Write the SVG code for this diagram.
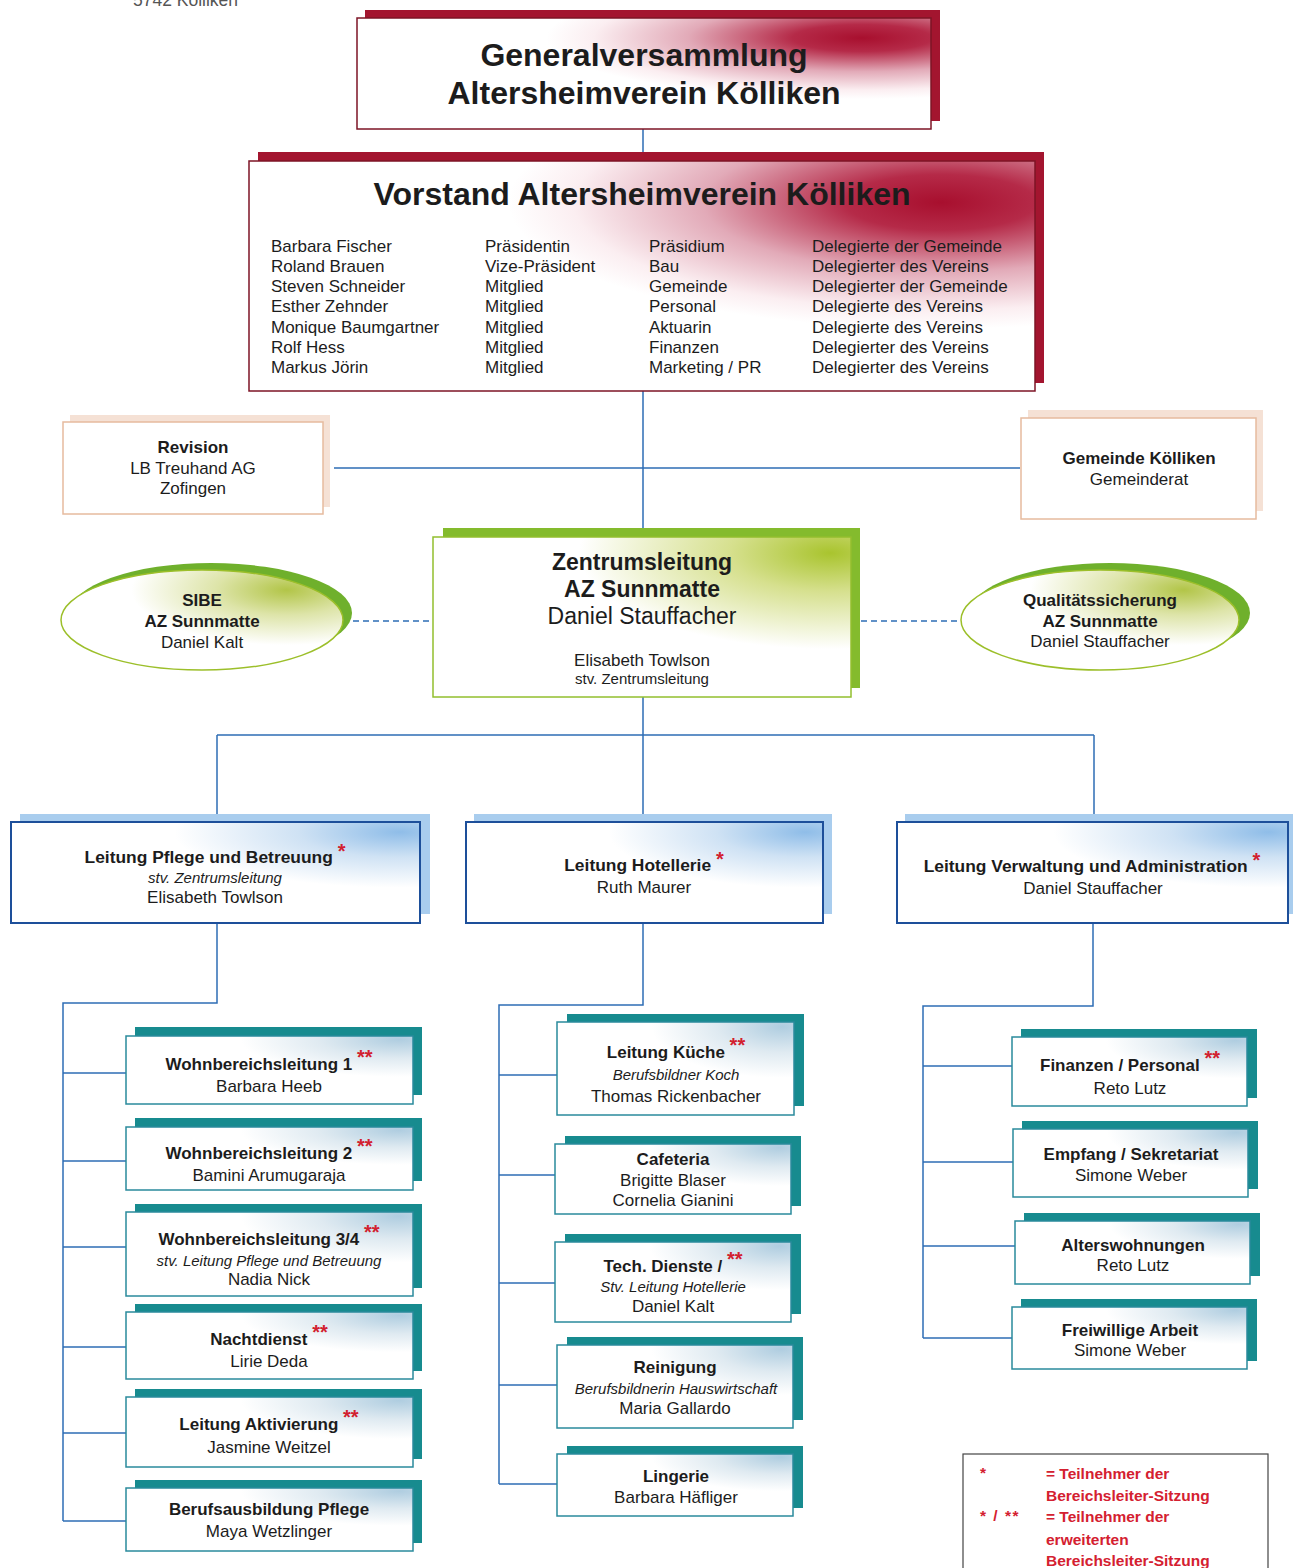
<svg xmlns="http://www.w3.org/2000/svg" width="1293" height="1568" viewBox="0 0 1293 1568">
<style>
text{font-family:"Liberation Sans",Arial,sans-serif;fill:#1c1c1c;font-size:17px}
.b{font-weight:bold}
.i{font-style:italic;font-size:15px}
.m{text-anchor:middle}
.ast{fill:#d2202e;font-weight:bold;font-size:20px}
.h1{font-size:32px;font-weight:bold}
.con{fill:none;stroke:#2e6db5;stroke-width:1.5}
.dash{fill:none;stroke:#2e6db5;stroke-width:1.5;stroke-dasharray:6 4}
.shRed{fill:#a3152f}
.bxRed{fill:url(#gRed);stroke:#7d1426;stroke-width:1.5}
.shPeach{fill:#f5e1d5}
.bxPeach{fill:#fff;stroke:#e6bb9e;stroke-width:1.5}
.shGreen{fill:#84bb2d}
.bxGreen{fill:url(#gGreen);stroke:#92bf2e;stroke-width:1.5}
.elGreen{fill:url(#gGreenE);stroke:#9cbf2a;stroke-width:1.5}
.shBlue{fill:#a9cdee}
.bxBlue{fill:url(#gBlue);stroke:#1d4f9a;stroke-width:2}
.shTeal{fill:#178b8f}
.bxTeal{fill:url(#gTeal);stroke:#2a8a9c;stroke-width:1.5}
.leg{fill:#d42030;font-weight:bold;font-size:15.5px}
</style>
<defs>
<radialGradient id="gRed" cx="0.88" cy="0.18" r="0.55">
<stop offset="0" stop-color="#a80f2e"/>
<stop offset="0.22" stop-color="#b52a48"/>
<stop offset="0.55" stop-color="#e2aab8"/>
<stop offset="0.85" stop-color="#fbeef1"/>
<stop offset="1" stop-color="#ffffff"/>
</radialGradient>
<radialGradient id="gGreen" cx="0.95" cy="0.1" r="0.6">
<stop offset="0" stop-color="#a9c42e"/>
<stop offset="0.4" stop-color="#d6e08e"/>
<stop offset="1" stop-color="#ffffff"/>
</radialGradient>
<radialGradient id="gGreenE" cx="0.8" cy="0.2" r="0.55">
<stop offset="0" stop-color="#b2c548"/>
<stop offset="0.45" stop-color="#dde4a8"/>
<stop offset="1" stop-color="#ffffff"/>
</radialGradient>
<radialGradient id="gBlue" cx="0.95" cy="0.1" r="0.55">
<stop offset="0" stop-color="#8fbde8"/>
<stop offset="0.45" stop-color="#cfe2f4"/>
<stop offset="1" stop-color="#ffffff"/>
</radialGradient>
<radialGradient id="gTeal" cx="0.95" cy="0.05" r="0.55">
<stop offset="0" stop-color="#afcde0"/>
<stop offset="0.5" stop-color="#dfeaf1"/>
<stop offset="1" stop-color="#ffffff"/>
</radialGradient>
</defs>
<rect width="1293" height="1568" fill="#ffffff"/>
<text x="133" y="6" style="fill:#555;font-size:17.5px">5742 Kölliken</text>

<g id="connectors">
<path class="con" d="M643 129V161M643 391V537M334 468H1020M643 697V735M217 735H1094M217 735V822M643 735V822M1094 735V822"/>
<path class="dash" d="M343 621H433M851 621H961"/>
<path class="con" d="M217 923V1003H63V1521M63 1073H126M63 1161H126M63 1247H126M63 1347H126M63 1433H126M63 1521H126"/>
<path class="con" d="M643 923V1005H499V1484M499 1075H557M499 1175H555M499 1283H555M499 1385H557M499 1484H557"/>
<path class="con" d="M1093 923V1006H923V1338M923 1066H1012M923 1162H1013M923 1246H1015M923 1338H1012"/>
</g>

<g id="generalversammlung">
<rect class="shRed" x="365" y="10" width="575" height="111"/>
<rect class="bxRed" x="357" y="18" width="574" height="111"/>
<text class="h1 m" x="644" y="66">Generalversammlung</text>
<text class="h1 m" x="644" y="104">Altersheimverein Kölliken</text>
</g>

<g id="vorstand">
<rect class="shRed" x="258" y="152" width="786" height="231"/>
<rect class="bxRed" x="249" y="161" width="786" height="230"/>
<text class="h1 m" x="642" y="205">Vorstand Altersheimverein Kölliken</text>
<g style="font-size:17.3px">
<text x="271" y="252">Barbara Fischer</text>
<text x="271" y="272">Roland Brauen</text>
<text x="271" y="292">Steven Schneider</text>
<text x="271" y="312">Esther Zehnder</text>
<text x="271" y="333">Monique Baumgartner</text>
<text x="271" y="353">Rolf Hess</text>
<text x="271" y="373">Markus Jörin</text>
<text x="485" y="252">Präsidentin</text>
<text x="485" y="272">Vize-Präsident</text>
<text x="485" y="292">Mitglied</text>
<text x="485" y="312">Mitglied</text>
<text x="485" y="333">Mitglied</text>
<text x="485" y="353">Mitglied</text>
<text x="485" y="373">Mitglied</text>
<text x="649" y="252">Präsidium</text>
<text x="649" y="272">Bau</text>
<text x="649" y="292">Gemeinde</text>
<text x="649" y="312">Personal</text>
<text x="649" y="333">Aktuarin</text>
<text x="649" y="353">Finanzen</text>
<text x="649" y="373">Marketing / PR</text>
<text x="812" y="252">Delegierte der Gemeinde</text>
<text x="812" y="272">Delegierter des Vereins</text>
<text x="812" y="292">Delegierter der Gemeinde</text>
<text x="812" y="312">Delegierte des Vereins</text>
<text x="812" y="333">Delegierte des Vereins</text>
<text x="812" y="353">Delegierter des Vereins</text>
<text x="812" y="373">Delegierter des Vereins</text>
</g>
</g>

<g id="revision">
<rect class="shPeach" x="70" y="415" width="260" height="92"/>
<rect class="bxPeach" x="63" y="422" width="260" height="92"/>
<text class="b m" x="193" y="453">Revision</text>
<text class="m" x="193" y="474">LB Treuhand AG</text>
<text class="m" x="193" y="494">Zofingen</text>
</g>

<g id="gemeinde">
<rect class="shPeach" x="1028" y="410" width="235" height="101"/>
<rect class="bxPeach" x="1021" y="418" width="235" height="101"/>
<text class="b m" x="1139" y="464">Gemeinde Kölliken</text>
<text class="m" x="1139" y="485">Gemeinderat</text>
</g>

<g id="zentrumsleitung">
<rect class="shGreen" x="443" y="528" width="417" height="160"/>
<rect class="bxGreen" x="433" y="537" width="418" height="160"/>
<text class="b m" x="642" y="570" style="font-size:23px">Zentrumsleitung</text>
<text class="b m" x="642" y="597" style="font-size:23px">AZ Sunnmatte</text>
<text class="m" x="642" y="624" style="font-size:23px">Daniel Stauffacher</text>
<text class="m" x="642" y="666">Elisabeth Towlson</text>
<text class="m" x="642" y="684" style="font-size:15px">stv. Zentrumsleitung</text>
</g>

<g id="sibe">
<ellipse class="shGreen" cx="211" cy="613" rx="141" ry="50" style="fill:#6fb02c"/>
<ellipse class="elGreen" cx="202" cy="620" rx="141" ry="50"/>
<text class="b m" x="202" y="606">SIBE</text>
<text class="b m" x="202" y="627">AZ Sunnmatte</text>
<text class="m" x="202" y="648">Daniel Kalt</text>
</g>

<g id="qualitaet">
<ellipse class="shGreen" cx="1110" cy="613" rx="140" ry="50" style="fill:#6fb02c"/>
<ellipse class="elGreen" cx="1100" cy="620" rx="139" ry="50"/>
<text class="b m" x="1100" y="606">Qualitätssicherung</text>
<text class="b m" x="1100" y="627">AZ Sunnmatte</text>
<text class="m" x="1100" y="647">Daniel Stauffacher</text>
</g>

<g id="pflege">
<rect class="shBlue" x="20" y="814" width="410" height="100"/>
<rect class="bxBlue" x="11" y="822" width="409" height="101"/>
<text class="b m" x="215" y="863" style="font-size:17.4px">Leitung Pflege und Betreuung <tspan class="ast" dy="-5">*</tspan></text>
<text class="i m" x="215" y="883">stv. Zentrumsleitung</text>
<text class="m" x="215" y="903">Elisabeth Towlson</text>
</g>

<g id="hotellerie">
<rect class="shBlue" x="474" y="814" width="358" height="100"/>
<rect class="bxBlue" x="466" y="822" width="357" height="101"/>
<text class="b m" x="644" y="871" style="font-size:17.4px">Leitung Hotellerie <tspan class="ast" dy="-5">*</tspan></text>
<text class="m" x="644" y="893">Ruth Maurer</text>
</g>

<g id="verwaltung">
<rect class="shBlue" x="905" y="814" width="388" height="100"/>
<rect class="bxBlue" x="897" y="822" width="391" height="101"/>
<text class="b m" x="1092" y="872" style="font-size:17.4px">Leitung Verwaltung und Administration <tspan class="ast" dy="-5">*</tspan></text>
<text class="m" x="1093" y="894">Daniel Stauffacher</text>
</g>

<g id="wbl1">
<rect class="shTeal" x="135" y="1027" width="287" height="68"/>
<rect class="bxTeal" x="126" y="1036" width="287" height="68"/>
<text class="b m" x="269" y="1070">Wohnbereichsleitung 1 <tspan class="ast" dy="-6">**</tspan></text>
<text class="m" x="269" y="1092">Barbara Heeb</text>
</g>
<g id="wbl2">
<rect class="shTeal" x="135" y="1118" width="287" height="63"/>
<rect class="bxTeal" x="126" y="1127" width="287" height="63"/>
<text class="b m" x="269" y="1159">Wohnbereichsleitung 2 <tspan class="ast" dy="-6">**</tspan></text>
<text class="m" x="269" y="1181">Bamini Arumugaraja</text>
</g>
<g id="wbl34">
<rect class="shTeal" x="135" y="1204" width="287" height="84"/>
<rect class="bxTeal" x="126" y="1212" width="287" height="84"/>
<text class="b m" x="269" y="1245">Wohnbereichsleitung 3/4 <tspan class="ast" dy="-6">**</tspan></text>
<text class="i m" x="269" y="1266">stv. Leitung Pflege und Betreuung</text>
<text class="m" x="269" y="1285">Nadia Nick</text>
</g>
<g id="nachtdienst">
<rect class="shTeal" x="135" y="1304" width="287" height="67"/>
<rect class="bxTeal" x="126" y="1312" width="287" height="67"/>
<text class="b m" x="269" y="1345">Nachtdienst <tspan class="ast" dy="-6">**</tspan></text>
<text class="m" x="269" y="1367">Lirie Deda</text>
</g>
<g id="aktivierung">
<rect class="shTeal" x="135" y="1389" width="287" height="70"/>
<rect class="bxTeal" x="126" y="1397" width="287" height="70"/>
<text class="b m" x="269" y="1430">Leitung Aktivierung <tspan class="ast" dy="-6">**</tspan></text>
<text class="m" x="269" y="1453">Jasmine Weitzel</text>
</g>
<g id="berufsausbildung">
<rect class="shTeal" x="135" y="1480" width="287" height="63"/>
<rect class="bxTeal" x="126" y="1488" width="287" height="63"/>
<text class="b m" x="269" y="1515">Berufsausbildung Pflege</text>
<text class="m" x="269" y="1537">Maya Wetzlinger</text>
</g>

<g id="kueche">
<rect class="shTeal" x="567" y="1014" width="237" height="92"/>
<rect class="bxTeal" x="557" y="1022" width="237" height="93"/>
<text class="b m" x="676" y="1058">Leitung Küche <tspan class="ast" dy="-6">**</tspan></text>
<text class="i m" x="676" y="1080">Berufsbildner Koch</text>
<text class="m" x="676" y="1102">Thomas Rickenbacher</text>
</g>
<g id="cafeteria">
<rect class="shTeal" x="565" y="1136" width="236" height="70"/>
<rect class="bxTeal" x="555" y="1144" width="236" height="70"/>
<text class="b m" x="673" y="1165">Cafeteria</text>
<text class="m" x="673" y="1186">Brigitte Blaser</text>
<text class="m" x="673" y="1206">Cornelia Gianini</text>
</g>
<g id="technik">
<rect class="shTeal" x="565" y="1234" width="236" height="80"/>
<rect class="bxTeal" x="555" y="1242" width="236" height="80"/>
<text class="b m" x="673" y="1272">Tech. Dienste / <tspan class="ast" dy="-6">**</tspan></text>
<text class="i m" x="673" y="1292">Stv. Leitung Hotellerie</text>
<text class="m" x="673" y="1312">Daniel Kalt</text>
</g>
<g id="reinigung">
<rect class="shTeal" x="567" y="1337" width="236" height="83"/>
<rect class="bxTeal" x="557" y="1345" width="236" height="83"/>
<text class="b m" x="675" y="1373">Reinigung</text>
<text class="i m" x="676" y="1394">Berufsbildnerin Hauswirtschaft</text>
<text class="m" x="675" y="1414">Maria Gallardo</text>
</g>
<g id="lingerie">
<rect class="shTeal" x="567" y="1446" width="236" height="62"/>
<rect class="bxTeal" x="557" y="1454" width="236" height="62"/>
<text class="b m" x="676" y="1482">Lingerie</text>
<text class="m" x="676" y="1503">Barbara Häfliger</text>
</g>

<g id="finanzen">
<rect class="shTeal" x="1021" y="1029" width="236" height="69"/>
<rect class="bxTeal" x="1012" y="1037" width="235" height="69"/>
<text class="b m" x="1130" y="1071">Finanzen / Personal <tspan class="ast" dy="-6">**</tspan></text>
<text class="m" x="1130" y="1094">Reto Lutz</text>
</g>
<g id="empfang">
<rect class="shTeal" x="1022" y="1121" width="236" height="68"/>
<rect class="bxTeal" x="1013" y="1129" width="235" height="68"/>
<text class="b m" x="1131" y="1160">Empfang / Sekretariat</text>
<text class="m" x="1131" y="1181">Simone Weber</text>
</g>
<g id="alterswohnungen">
<rect class="shTeal" x="1024" y="1213" width="236" height="63"/>
<rect class="bxTeal" x="1015" y="1221" width="235" height="63"/>
<text class="b m" x="1133" y="1251">Alterswohnungen</text>
<text class="m" x="1133" y="1271">Reto Lutz</text>
</g>
<g id="freiwillige">
<rect class="shTeal" x="1021" y="1299" width="236" height="62"/>
<rect class="bxTeal" x="1012" y="1307" width="235" height="62"/>
<text class="b m" x="1130" y="1336">Freiwillige Arbeit</text>
<text class="m" x="1130" y="1356">Simone Weber</text>
</g>

<g id="legende">
<rect x="963" y="1454" width="305" height="130" fill="#fff" stroke="#444" stroke-width="1.2"/>
<text class="leg" x="980" y="1478">*</text>
<text class="leg" x="1046" y="1479">= Teilnehmer der</text>
<text class="leg" x="1046" y="1501">Bereichsleiter-Sitzung</text>
<text class="leg" x="980" y="1521" style="letter-spacing:1.5px">* / **</text>
<text class="leg" x="1046" y="1522">= Teilnehmer der</text>
<text class="leg" x="1046" y="1545">erweiterten</text>
<text class="leg" x="1046" y="1566">Bereichsleiter-Sitzung</text>
</g>
</svg>
